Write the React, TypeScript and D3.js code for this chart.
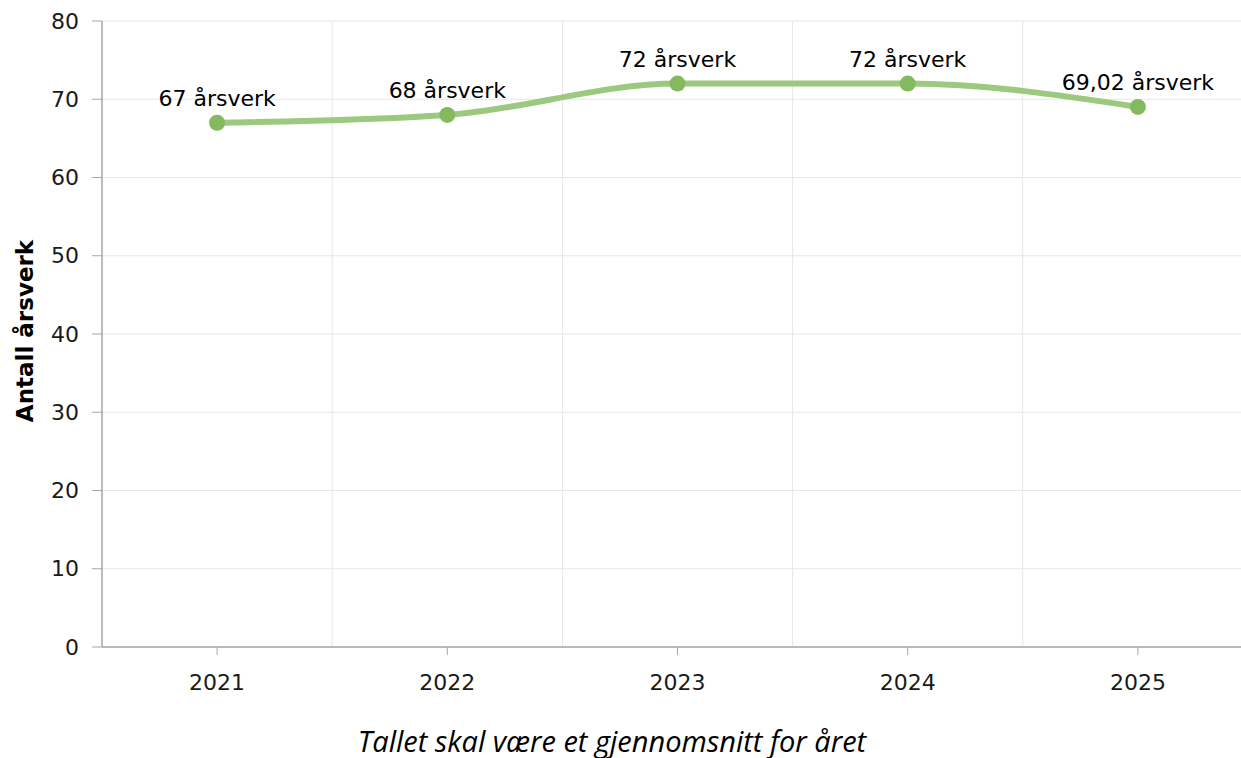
import React from "react";
import * as d3 from "d3";

const years = ["2021", "2022", "2023", "2024", "2025"];
const values = [67, 68, 72, 72, 69.02];
const labels = ["67 årsverk", "68 årsverk", "72 årsverk", "72 årsverk", "69,02 årsverk"];
const yTicks = [0, 10, 20, 30, 40, 50, 60, 70, 80];
const yTitle = "Antall årsverk";
const xTitle = "Tallet skal være et gjennomsnitt for året";

const W = 1241;
const H = 758;
const left = 102;
const right = 1253;
const top = 21;
const bottom = 647;

export default function App() {
  const x = d3.scaleBand<string>().domain(years).range([left, right]).padding(0);
  const y = d3.scaleLinear().domain([0, 80]).range([bottom, top]);
  const cx = (d: string) => (x(d) as number) + x.bandwidth() / 2;
  const pts: [number, number][] = years.map((yr, i) => [cx(yr), y(values[i])]);
  const line = d3.line().curve(d3.curveMonotoneX)(pts) as string;
  const font = "'DejaVu Sans', Verdana, sans-serif";
  const boundaries = years.slice(1).map((yr) => x(yr) as number);

  return (
    <svg width={W} height={H} style={{ position: "absolute", left: 0, top: 0, background: "#fff" }}>
      {yTicks.map((t) => (
        <line key={"g" + t} x1={left} x2={W} y1={y(t)} y2={y(t)} stroke="#e6e6e6" strokeWidth={1} />
      ))}
      {boundaries.map((bx, i) => (
        <line key={"v" + i} x1={bx} x2={bx} y1={top} y2={bottom} stroke="#e6e6e6" strokeWidth={1} />
      ))}
      <line x1={left} x2={left} y1={top} y2={bottom} stroke="#a6a6a6" strokeWidth={1.5} />
      <line x1={left} x2={W} y1={bottom} y2={bottom} stroke="#a6a6a6" strokeWidth={1.5} />
      {yTicks.map((t) => (
        <g key={"t" + t}>
          <line x1={left - 10} x2={left} y1={y(t)} y2={y(t)} stroke="#a6a6a6" strokeWidth={1} />
          <text x={79} y={y(t)} dy="0.35em" textAnchor="end" fontFamily={font} fontSize={22} fill="#1a1a1a">
            {t}
          </text>
        </g>
      ))}
      {years.map((yr) => (
        <g key={"x" + yr}>
          <line x1={cx(yr)} x2={cx(yr)} y1={bottom} y2={bottom + 8} stroke="#a6a6a6" strokeWidth={1} />
          <text x={cx(yr)} y={690} textAnchor="middle" fontFamily={font} fontSize={22} fill="#1a1a1a">
            {yr}
          </text>
        </g>
      ))}
      <text
        transform={`translate(33,331) rotate(-90)`}
        textAnchor="middle"
        fontFamily={font}
        fontWeight="bold"
        fontSize={23}
        fill="#000"
      >
        {yTitle}
      </text>
      <path d={line} fill="none" stroke="#9cc87f" strokeWidth={6} strokeLinecap="round" />
      {pts.map((p, i) => (
        <g key={"p" + i}>
          <circle cx={p[0]} cy={p[1]} r={8} fill="#84b960" />
          <text x={p[0]} y={p[1] - 17} textAnchor="middle" fontFamily={font} fontSize={22} fill="#000">
            {labels[i]}
          </text>
        </g>
      ))}
      <text x={612} y={752} textAnchor="middle" fontFamily="'Open Sans', sans-serif" fontStyle="italic" fontSize={29} fill="#000">
        {xTitle}
      </text>
    </svg>
  );
}
